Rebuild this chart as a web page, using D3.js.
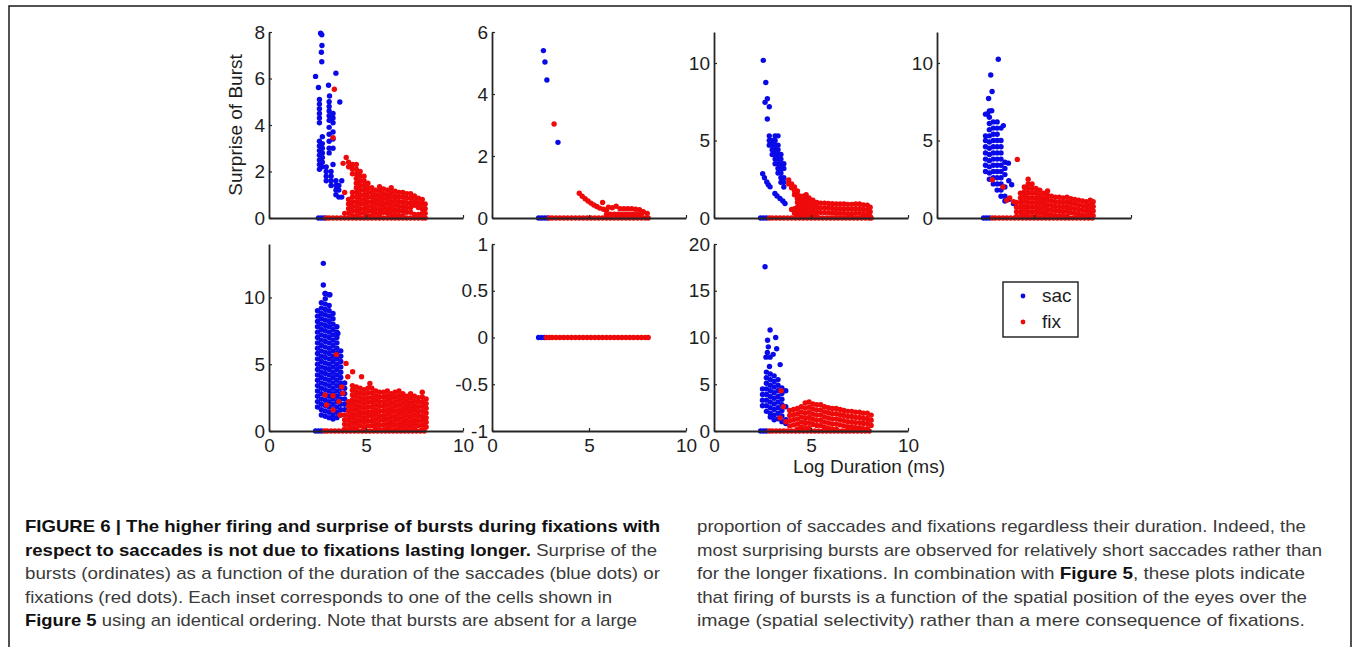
<!DOCTYPE html>
<html>
<head>
<meta charset="utf-8">
<script src="https://cdn.jsdelivr.net/npm/d3@7"></script>
<style>
  body { margin: 0; background: #fff; }
  svg { display: block; }
</style>
</head>
<body>
<div id="chart"></div>
<script>
// each series is a list of columns: [logDuration, [surprise values...]]
// *Zero arrays are the log durations of bursts with surprise 0

// panel 1
var p1Sac = [
  [2.4, [6.09]], [2.55, [5.61]], [2.66, [7.95]], [2.72, [7.88, 6.72]], [2.73, [7.42]], [2.7, [7.13]],
  [3.45, [6.23]], [3.07, [5.71]], [3.12, [5.25]], [3.65, [4.99]],
  [2.6, [5.1, 4.9, 4.7, 4.5, 4.3, 4.1, 3.3, 3.1, 2.9, 2.7, 2.5, 2.3, 2.1]],
  [2.75, [3.5, 3.2, 3.0, 2.8, 2.6, 2.4, 2.2]],
  [3.1, [5.0, 4.8, 4.6, 4.4, 4.2, 3.9, 3.6, 3.3, 3.0, 2.8]],
  [3.3, [4.5, 4.3, 4.1, 3.7, 3.4, 3.0, 2.3]],
  [2.95, [2.2, 2.0, 1.8, 1.6]],
  [3.2, [2.0, 1.8, 1.6, 1.4]],
  [3.45, [1.6, 1.4, 1.2, 1.0]],
  [3.6, [1.4, 1.2, 0.9]],
  [3.75, [1.6, 0.9]]
];
var p1Fix = [
  [3.37, [5.54]], [3.3, [3.45]], [3.82, [2.35]], [3.98, [2.6]],
  [3.9, [1.1, 0.2]],
  [4.1, [2.4, 2.2, 0.8, 0.6, 0.4, 0.2]],
  [4.3, [2.3, 2.1, 1.9, 1.1, 0.9, 0.7, 0.5, 0.3, 0.1]],
  [4.5, [2.3, 2.1, 1.9, 1.7, 1.5, 1.3, 1.1, 0.9, 0.7, 0.5, 0.3, 0.1]],
  [4.7, [2.0, 1.8, 1.6, 1.4, 1.2, 1.0, 0.8, 0.6, 0.4, 0.2]],
  [4.9, [1.8, 1.6, 1.4, 1.2, 1.0, 0.8, 0.6, 0.4, 0.2]],
  [5.1, [1.5, 1.3, 1.1, 0.9, 0.7, 0.5, 0.3, 0.1]],
  [5.3, [1.3, 1.1, 0.9, 0.7, 0.5, 0.3, 0.1]],
  [5.5, [1.2, 1.0, 0.8, 0.6, 0.4, 0.2]],
  [5.7, [1.35, 1.15, 0.95, 0.75, 0.55, 0.35, 0.15]],
  [5.9, [1.25, 1.05, 0.85, 0.65, 0.45, 0.25]],
  [6.1, [1.2, 1.0, 0.8, 0.6, 0.4, 0.2]],
  [6.3, [1.3, 1.1, 0.9, 0.7, 0.5, 0.3, 0.1]],
  [6.5, [1.15, 0.95, 0.75, 0.55, 0.35, 0.15]],
  [6.7, [1.1, 0.9, 0.7, 0.5, 0.3, 0.1]],
  [6.9, [1.1, 0.9, 0.7, 0.5, 0.3, 0.1]],
  [7.1, [1.05, 0.85, 0.65, 0.45, 0.25]],
  [7.3, [1.05, 0.85, 0.65, 0.45, 0.25]],
  [7.5, [0.95, 0.75, 0.55, 0.15]],
  [7.7, [0.85, 0.65, 0.45, 0.15]],
  [7.9, [0.8, 0.6, 0.4, 0.2]],
  [8.05, [0.6, 0.4, 0.2]]
];
var p1SacZero = [2.55, 2.7, 2.85];
var p1FixZero = [2.95, 3.1, 3.3, 3.5, 3.7, 3.9, 4.1, 4.3, 4.5, 4.7, 4.9, 5.1, 5.3, 5.5, 5.7, 5.9, 6.1, 6.3, 6.5, 6.7, 6.9, 7.1, 7.3, 7.5, 7.7, 7.9, 8.05];

// panel 2
var p2Sac = [[2.65, [5.4]], [2.73, [5.03]], [2.83, [4.45]], [3.4, [2.44]]];
var p2Fix = [
  [3.2, [3.03]], [4.5, [0.8]], [4.65, [0.7]], [4.8, [0.62]], [4.95, [0.55]], [5.1, [0.48]],
  [5.25, [0.42]], [5.4, [0.37]], [5.55, [0.32]], [5.7, [0.5]], [5.75, [0.28]], [5.9, [0.25, 0.12]],
  [6.0, [0.35]], [6.1, [0.12]], [6.2, [0.33]], [6.3, [0.12]], [6.4, [0.38]], [6.5, [0.12]], [6.6, [0.3]],
  [6.7, [0.12]], [6.8, [0.3]], [6.9, [0.12]], [7.0, [0.3]], [7.1, [0.12]], [7.2, [0.3]], [7.3, [0.12]],
  [7.4, [0.28]], [7.5, [0.12]], [7.6, [0.27]], [7.7, [0.12]], [7.8, [0.2]], [8.0, [0.15]]
];
var p2SacZero = [2.4, 2.55, 2.7, 2.85];
var p2FixZero = [2.95, 3.1, 3.3, 3.5, 3.7, 3.9, 4.1, 4.3, 4.5, 4.7, 4.9, 5.1, 5.3, 5.5, 5.7, 5.9, 6.1, 6.3, 6.5, 6.7, 6.9, 7.1, 7.3, 7.5, 7.7, 7.9, 8.05];

// panel 3
var p3Sac = [
  [2.54, [10.17]], [2.67, [8.74]], [2.75, [7.69, 6.39]], [2.63, [7.46]], [2.85, [7.18]],
  [2.85, [5.3, 5.0, 4.7]],
  [3.0, [5.0, 4.7, 4.4, 4.1]],
  [3.15, [5.3, 5.0, 4.7, 4.4, 4.1, 3.8, 3.5]],
  [3.3, [5.3, 4.7, 4.4, 4.1, 3.8, 3.5, 3.2, 2.9]],
  [3.45, [4.1, 3.8, 3.5, 3.2, 2.9, 2.6, 2.3]],
  [3.6, [3.5, 3.2, 2.6, 2.3, 2.0]],
  [2.51, [2.86]], [2.6, [2.6]], [2.72, [2.33]], [2.8, [2.15]], [2.89, [2.01]], [3.14, [1.58]],
  [3.25, [1.42]], [3.4, [1.26]], [3.55, [1.1]], [3.66, [0.94]]
];
var p3Fix = [
  [3.85, [2.45, 2.2]],
  [4.0, [2.2, 1.95, 0.55]],
  [4.15, [2.0, 1.75, 1.5, 0.6, 0.3]],
  [4.3, [1.75, 1.5, 1.25, 1.0, 0.7, 0.4, 0.1]],
  [4.45, [1.4, 1.15, 0.9, 0.6, 0.3]],
  [4.6, [1.4, 1.1, 0.8, 0.5, 0.2]],
  [4.75, [1.5, 1.2, 0.9, 0.6, 0.3]],
  [4.9, [1.3, 1.0, 0.7, 0.4, 0.1]],
  [5.1, [1.15, 0.85, 0.55, 0.25]],
  [5.3, [1.0, 0.7, 0.4, 0.1]],
  [5.5, [0.95, 0.65, 0.35]],
  [5.7, [0.95, 0.65, 0.35]],
  [5.9, [0.94, 0.64, 0.34]],
  [6.1, [0.92, 0.62, 0.32]],
  [6.3, [0.9, 0.6, 0.3]],
  [6.5, [0.9, 0.6, 0.3]],
  [6.7, [0.9, 0.6, 0.3]],
  [6.9, [0.88, 0.58, 0.28]],
  [7.1, [0.88, 0.58, 0.28]],
  [7.3, [0.9, 0.6, 0.3]],
  [7.5, [0.9, 0.6, 0.3]],
  [7.7, [0.85, 0.55, 0.25]],
  [7.9, [0.83, 0.53, 0.23]],
  [8.05, [0.7, 0.4, 0.1]]
];
var p3SacZero = [2.4, 2.55, 2.7];
var p3FixZero = [2.85, 3.0, 3.2, 3.4, 3.6, 3.8, 4.0, 4.2, 4.4, 4.6, 4.8, 5.0, 5.2, 5.4, 5.6, 5.8, 6.0, 6.2, 6.4, 6.6, 6.8, 7.0, 7.2, 7.4, 7.6, 7.8, 8.0, 8.1];

// panel 4
var p4Sac = [
  [3.16, [10.24]], [2.77, [9.23]], [2.84, [8.16]], [2.66, [7.71]], [2.6, [6.71]], [2.82, [6.92]],
  [3.42, [5.96]], [3.68, [3.54]], [3.85, [2.15]], [3.94, [0.94]],
  [2.5, [6.7, 5.3, 5.0, 4.6, 4.2, 3.8, 3.4, 3.0]],
  [2.7, [6.9, 6.5, 6.1, 5.7, 5.3, 4.9, 4.5, 4.1, 3.7, 3.3, 2.9, 2.5]],
  [2.9, [6.2, 5.8, 5.4, 5.0, 4.6, 4.2, 3.8, 3.4, 3.0, 2.6, 2.2]],
  [3.1, [6.2, 5.8, 5.4, 5.0, 4.6, 4.2, 3.8, 3.4, 3.0, 2.6, 2.2, 1.8]],
  [3.3, [5.8, 5.0, 4.6, 4.2, 3.8, 3.4, 3.0, 2.6, 2.2, 1.8, 1.4]],
  [3.5, [3.6, 3.2, 2.8, 2.0, 1.4, 1.1]],
  [3.7, [2.4, 1.2]]
];
var p4Fix = [
  [4.14, [3.78]], [2.85, [2.47]], [3.4, [2.0]], [3.6, [1.15]], [3.75, [1.3]], [3.95, [1.05]],
  [4.1, [1.0, 0.7, 0.4, 0.1]],
  [4.3, [1.6, 1.3, 1.0, 0.7, 0.4, 0.1]],
  [4.5, [2.0, 1.7, 1.4, 1.1, 0.8, 0.5, 0.2]],
  [4.7, [2.5, 2.2, 1.9, 1.6, 1.3, 1.0, 0.7, 0.4, 0.1]],
  [4.9, [2.2, 1.9, 1.6, 1.3, 1.0, 0.7, 0.4, 0.1]],
  [5.1, [1.9, 1.6, 1.3, 1.0, 0.7, 0.4, 0.1]],
  [5.3, [1.8, 1.5, 1.2, 0.9, 0.6, 0.3]],
  [5.5, [1.6, 1.3, 1.0, 0.7, 0.4, 0.1]],
  [5.7, [1.75, 1.45, 1.15, 0.85, 0.55, 0.25]],
  [5.9, [1.4, 1.1, 0.8, 0.5, 0.2]],
  [6.1, [1.35, 1.05, 0.75, 0.45, 0.15]],
  [6.3, [1.35, 1.05, 0.75, 0.45, 0.15]],
  [6.5, [1.3, 1.0, 0.7, 0.4, 0.1]],
  [6.7, [1.35, 1.05, 0.75, 0.45, 0.15]],
  [6.9, [1.25, 0.95, 0.65, 0.35]],
  [7.1, [1.2, 0.9, 0.6, 0.3]],
  [7.3, [1.15, 0.85, 0.55, 0.25]],
  [7.5, [1.1, 0.8, 0.5, 0.2]],
  [7.7, [1.05, 0.75, 0.45, 0.15]],
  [7.9, [1.15, 0.85, 0.55, 0.25]],
  [8.05, [1.05, 0.75, 0.45, 0.15]]
];
var p4SacZero = [2.4, 2.55, 2.7];
var p4FixZero = [2.85, 3.0, 3.2, 3.4, 3.6, 3.8, 4.0, 4.2, 4.4, 4.6, 4.8, 5.0, 5.2, 5.4, 5.6, 5.8, 6.0, 6.2, 6.4, 6.6, 6.8, 7.0, 7.2, 7.4, 7.6, 7.8, 8.0];

// panel 5
var p5Sac = [
  [2.8, [12.55, 10.93]], [2.89, [10.3]], [3.14, [10.2]], [3.3, [8.8]], [3.55, [7.3]],
  [2.5, [9.0, 8.6, 8.2, 7.8, 7.4, 7.0, 6.6, 6.2, 5.8, 5.4, 5.0, 4.6, 4.2, 3.8, 3.4, 3.0, 2.6, 2.2, 1.8]],
  [2.7, [9.6, 9.2, 8.8, 8.4, 8.0, 7.6, 7.2, 6.8, 6.4, 6.0, 5.6, 5.2, 4.8, 4.4, 4.0, 3.6, 3.2, 2.8, 2.4, 2.0, 1.6, 1.2]],
  [2.9, [10.3, 9.9, 9.5, 9.1, 8.7, 8.3, 7.9, 7.5, 7.1, 6.7, 6.3, 5.9, 5.5, 5.1, 4.7, 4.3, 3.9, 3.5, 3.1, 2.7, 2.3, 1.9, 1.5, 1.1]],
  [3.1, [10.2, 9.4, 9.0, 8.6, 8.2, 7.8, 7.4, 7.0, 6.6, 6.2, 5.8, 5.4, 5.0, 4.6, 4.2, 3.8, 3.4, 3.0, 2.6, 2.2, 1.8, 1.4, 1.0]],
  [3.3, [8.4, 8.0, 7.6, 7.2, 6.8, 6.4, 6.0, 5.6, 5.2, 4.8, 4.4, 4.0, 3.6, 3.2, 2.8, 2.4, 2.0, 1.6, 1.2, 0.9]],
  [3.5, [7.8, 7.4, 7.0, 6.6, 6.2, 5.8, 5.4, 5.0, 4.6, 4.2, 3.8, 3.4, 3.0, 2.6, 2.2, 1.8, 1.4, 1.0]],
  [3.7, [6.0, 5.6, 5.2, 4.8, 4.4, 4.0, 3.6, 3.2, 2.8, 2.4, 2.0, 1.6, 1.2]],
  [3.9, [3.6, 3.2, 2.8, 2.4, 2.0, 1.6]]
];
var p5Fix = [
  [3.47, [5.72]], [3.97, [5.06]], [4.31, [4.44]], [4.06, [4.06]], [4.77, [4.06]], [5.2, [3.56]],
  [2.89, [2.7]], [3.3, [2.64]], [3.8, [2.82]], [2.97, [1.95]], [3.3, [1.57]], [3.66, [1.2]],
  [3.75, [3.3]], [3.6, [2.2]],
  [3.9, [1.2, 0.85, 0.5, 0.15]],
  [4.1, [2.2, 1.85, 1.5, 1.15, 0.8, 0.45, 0.1]],
  [4.3, [3.4, 3.05, 2.7, 2.35, 2.0, 1.65, 1.3, 0.95, 0.6, 0.25]],
  [4.5, [3.3, 2.95, 2.6, 2.25, 1.9, 1.55, 1.2, 0.85, 0.5, 0.15]],
  [4.7, [3.2, 2.85, 2.5, 2.15, 1.8, 1.45, 1.1, 0.75, 0.4]],
  [4.9, [3.1, 2.75, 2.4, 2.05, 1.7, 1.35, 1.0, 0.65, 0.3]],
  [5.1, [3.2, 2.85, 2.5, 2.15, 1.8, 1.45, 1.1, 0.75, 0.4]],
  [5.3, [3.2, 2.85, 2.5, 2.15, 1.8, 1.45, 1.1, 0.75, 0.4]],
  [5.5, [3.0, 2.65, 2.3, 1.95, 1.6, 1.25, 0.9, 0.55, 0.2]],
  [5.7, [2.9, 2.55, 2.2, 1.85, 1.5, 1.15, 0.8, 0.45, 0.1]],
  [5.9, [2.9, 2.55, 2.2, 1.85, 1.5, 1.15, 0.8, 0.45, 0.1]],
  [6.1, [3.0, 2.65, 2.3, 1.95, 1.6, 1.25, 0.9, 0.55, 0.2]],
  [6.3, [2.8, 2.45, 2.1, 1.75, 1.4, 1.05, 0.7, 0.35]],
  [6.5, [2.9, 2.55, 2.2, 1.85, 1.5, 1.15, 0.8, 0.45, 0.1]],
  [6.7, [3.0, 2.65, 2.3, 1.95, 1.6, 1.25, 0.9, 0.55, 0.2]],
  [6.9, [2.8, 2.45, 2.1, 1.75, 1.4, 1.05, 0.7, 0.35]],
  [7.1, [2.6, 2.25, 1.9, 1.55, 1.2, 0.85, 0.5, 0.15]],
  [7.3, [2.8, 2.45, 2.1, 1.75, 1.4, 1.05, 0.7, 0.35]],
  [7.5, [2.6, 2.25, 1.9, 1.55, 1.2, 0.85, 0.5, 0.15]],
  [7.7, [2.5, 2.15, 1.8, 1.45, 1.1, 0.75, 0.4]],
  [7.9, [2.9, 2.55, 2.2, 1.85, 1.5, 1.15, 0.8, 0.45, 0.1]],
  [8.1, [2.4, 2.05, 1.7, 1.35, 1.0, 0.65, 0.3]]
];
var p5SacZero = [2.4, 2.55, 2.7];
var p5FixZero = [2.85, 3.0, 3.2, 3.4, 3.6, 3.8, 4.0, 4.2, 4.4, 4.6, 4.8, 5.0, 5.2, 5.4, 5.6, 5.8, 6.0, 6.2, 6.4, 6.6, 6.8, 7.0, 7.2, 7.4, 7.6, 7.8, 8.0];

// panel 6 (no bursts at all)
var p6Sac = [];
var p6Fix = [];
var p6SacZero = [2.4, 2.55, 2.7];
var p6FixZero = [2.8, 2.95, 3.1, 3.3, 3.5, 3.7, 3.9, 4.1, 4.3, 4.5, 4.7, 4.9, 5.1, 5.3, 5.5, 5.7, 5.9, 6.1, 6.3, 6.5, 6.7, 6.9, 7.1, 7.3, 7.5, 7.7, 7.9, 8.05];

// panel 7
var p7Sac = [
  [2.63, [17.57]], [2.89, [10.8, 7.9]], [3.18, [10.0]], [2.76, [9.7]], [2.8, [9.0]], [3.23, [8.8]],
  [2.68, [7.9]], [3.41, [7.1]], [2.86, [6.9]], [2.75, [8.4]], [3.05, [8.2]],
  [2.5, [4.5, 3.9, 3.3, 2.7]],
  [2.7, [6.3, 5.7, 5.1, 4.5, 3.9, 3.3, 2.7, 2.1]],
  [2.9, [6.1, 5.5, 4.9, 4.3, 3.7, 3.1, 2.5, 1.9, 1.5]],
  [3.1, [5.9, 5.3, 4.7, 4.1, 3.5, 2.9, 2.3, 1.7, 1.2]],
  [3.3, [5.5, 4.9, 4.3, 3.7, 3.1, 2.5, 1.9, 1.3]],
  [3.5, [4.6, 4.0, 3.4, 2.8, 2.2, 1.6, 1.0]],
  [3.7, [4.3, 2.6, 1.2, 0.8]]
];
var p7Fix = [
  [3.46, [4.3]], [3.58, [2.6]], [3.41, [1.4]], [3.7, [1.0]],
  [3.9, [2.2, 1.65, 1.1, 0.55]],
  [4.1, [2.3, 1.75, 1.2, 0.65]],
  [4.3, [2.4, 1.85, 1.3, 0.75, 0.2]],
  [4.5, [2.6, 2.05, 1.5, 0.95, 0.4]],
  [4.7, [3.0, 2.45, 1.9, 1.35, 0.8, 0.25]],
  [4.9, [3.1, 2.55, 2.0, 1.45, 0.9, 0.35]],
  [5.1, [2.9, 2.35, 1.8, 1.25, 0.7]],
  [5.3, [2.8, 2.25, 1.7, 1.15, 0.6]],
  [5.5, [2.8, 2.25, 1.7, 1.15, 0.6]],
  [5.7, [2.6, 2.05, 1.5, 0.95, 0.4]],
  [5.9, [2.5, 1.95, 1.4, 0.85, 0.3]],
  [6.1, [2.4, 1.85, 1.3, 0.75, 0.2]],
  [6.3, [2.4, 1.85, 1.3, 0.75, 0.2]],
  [6.5, [2.3, 1.75, 1.2, 0.65]],
  [6.7, [2.2, 1.65, 1.1, 0.55]],
  [6.9, [2.1, 1.55, 1.0, 0.45]],
  [7.1, [2.1, 1.55, 1.0, 0.45]],
  [7.3, [2.0, 1.45, 0.9, 0.35]],
  [7.5, [2.0, 1.45, 0.9, 0.35]],
  [7.7, [1.9, 1.35, 0.8, 0.25]],
  [7.9, [1.9, 1.35, 0.8, 0.25]],
  [8.1, [1.7, 1.15, 0.6]]
];
var p7SacZero = [2.4, 2.55, 2.7];
var p7FixZero = [2.85, 3.0, 3.2, 3.4, 3.6, 3.8, 4.0, 4.2, 4.4, 4.6, 4.8, 5.0, 5.2, 5.4, 5.6, 5.8, 6.0, 6.2, 6.4, 6.6, 6.8, 7.0, 7.2, 7.4, 7.6, 7.8, 8.0];

// y ticks of every inset
var yTicks1 = [0, 2, 4, 6, 8];
var yTicks2 = [0, 2, 4, 6];
var yTicks3 = [0, 5, 10];
var yTicks4 = [0, 5, 10];
var yTicks5 = [0, 5, 10];
var yTicks6 = [-1, -0.5, 0, 0.5, 1];
var yTicks7 = [0, 5, 10, 15, 20];
var xTicks = [0, 5, 10];
var seriesNames = ["sac", "fix"];

var captionLeft = [
  [["FIGURE 6 | The higher firing and surprise of bursts during fixations with", true]],
  [["respect to saccades is not due to fixations lasting longer.", true], [" Surprise of the", false]],
  [["bursts (ordinates) as a function of the duration of the saccades (blue dots) or", false]],
  [["fixations (red dots). Each inset corresponds to one of the cells shown in", false]],
  [["Figure 5", true], [" using an identical ordering. Note that bursts are absent for a large", false]]
];
var captionRight = [
  [["proportion of saccades and fixations regardless their duration. Indeed, the", false]],
  [["most surprising bursts are observed for relatively short saccades rather than", false]],
  [["for the longer fixations. In combination with ", false], ["Figure 5", true], [", these plots indicate", false]],
  [["that firing of bursts is a function of the spatial position of the eyes over the", false]],
  [["image (spatial selectivity) rather than a mere consequence of fixations.", false]]
];

var width = 1356, height = 647;
var blue = "#0a0ae8", red = "#ee0a0a";
var axisColor = "#262626";
var font = "'Liberation Sans', Arial, sans-serif";

var svg = d3.select("#chart").append("svg")
    .attr("width", width)
    .attr("height", height);

// figure frame
svg.append("path")
    .attr("d", "M9,647 L9,6 L1351,6 L1351,647")
    .attr("fill", "none")
    .attr("stroke", "#1a1a1a")
    .attr("stroke-width", 1.5);

function flatten(cols) {
  var out = [];
  cols.forEach(function(c) {
    c[1].forEach(function(y) { out.push({x: c[0], y: y}); });
  });
  return out;
}
function zeros(xs) {
  return xs.map(function(x) { return {x: x, y: 0}; });
}

var panels = [
  {left: 269, top: 32, bottom: 218, y: [0, 8], ticks: yTicks1, labels: false, sac: p1Sac, fix: p1Fix, sz: p1SacZero, fz: p1FixZero},
  {left: 492, top: 32, bottom: 218, y: [0, 6], ticks: yTicks2, labels: false, sac: p2Sac, fix: p2Fix, sz: p2SacZero, fz: p2FixZero},
  {left: 714, top: 32, bottom: 218, y: [0, 12], ticks: yTicks3, labels: false, sac: p3Sac, fix: p3Fix, sz: p3SacZero, fz: p3FixZero},
  {left: 937, top: 32, bottom: 218, y: [0, 12], ticks: yTicks4, labels: false, sac: p4Sac, fix: p4Fix, sz: p4SacZero, fz: p4FixZero},
  {left: 269, top: 244, bottom: 431, y: [0, 14], ticks: yTicks5, labels: true, sac: p5Sac, fix: p5Fix, sz: p5SacZero, fz: p5FixZero},
  {left: 492, top: 244, bottom: 431, y: [-1, 1], ticks: yTicks6, labels: true, sac: p6Sac, fix: p6Fix, sz: p6SacZero, fz: p6FixZero},
  {left: 714, top: 244, bottom: 431, y: [0, 20], ticks: yTicks7, labels: true, sac: p7Sac, fix: p7Fix, sz: p7SacZero, fz: p7FixZero}
];
var panelWidth = 194;
var r = 2.7;

panels.forEach(function(p) {
  var x = d3.scaleLinear().domain([0, 10]).range([p.left, p.left + panelWidth]);
  var y = d3.scaleLinear().domain(p.y).range([p.bottom, p.top]);
  var g = svg.append("g");

  var sacPts = zeros(p.sz).concat(flatten(p.sac));
  var fixPts = zeros(p.fz).concat(flatten(p.fix));

  g.append("g").selectAll("circle")
      .data(sacPts)
      .enter()
      .append("circle")
      .attr("cx", function(d) { return x(d.x); })
      .attr("cy", function(d) { return y(d.y); })
      .attr("r", r)
      .attr("fill", blue);

  g.append("g").selectAll("circle")
      .data(fixPts)
      .enter()
      .append("circle")
      .attr("cx", function(d) { return x(d.x); })
      .attr("cy", function(d) { return y(d.y); })
      .attr("r", r)
      .attr("fill", red);

  // axes are drawn after the dots like matlab does with the box
  var xAxis = d3.axisBottom(x)
      .tickValues(xTicks)
      .tickSize(-3)
      .tickSizeOuter(0)
      .tickPadding(8)
      .tickFormat(p.labels ? function(d) { return d; } : function() { return ""; });
  var yAxis = d3.axisLeft(y)
      .tickValues(p.ticks)
      .tickSize(-3)
      .tickSizeOuter(0)
      .tickPadding(4)
      .tickFormat(function(d) { return String(d); });

  var xg = g.append("g")
      .attr("transform", "translate(0," + y(p.y[0]) + ")")
      .call(xAxis);
  var yg = g.append("g")
      .attr("transform", "translate(" + p.left + ",0)")
      .call(yAxis);

  [xg, yg].forEach(function(a) {
    a.select(".domain").attr("stroke", axisColor).attr("stroke-width", 1.8);
    a.selectAll(".tick line").attr("stroke", axisColor).attr("stroke-width", 1.2);
    a.selectAll("text")
        .attr("fill", "#1e1e1e")
        .attr("font-family", font)
        .attr("font-size", "19px");
  });
});

// axis titles
svg.append("text")
    .attr("transform", "translate(242,125) rotate(-90)")
    .attr("text-anchor", "middle")
    .attr("font-family", font)
    .attr("font-size", "19px")
    .attr("fill", "#1e1e1e")
    .text("Surprise of Burst");

svg.append("text")
    .attr("x", 869)
    .attr("y", 473)
    .attr("text-anchor", "middle")
    .attr("font-family", font)
    .attr("font-size", "19px")
    .attr("fill", "#1e1e1e")
    .text("Log Duration (ms)");

// legend
var legend = svg.append("g").attr("transform", "translate(1003,282)");
legend.append("rect")
    .attr("width", 75)
    .attr("height", 55)
    .attr("fill", "#fff")
    .attr("stroke", "#1a1a1a")
    .attr("stroke-width", 1.4);
var legendColor = d3.scaleOrdinal().domain(seriesNames).range([blue, red]);
var legendY = d3.scalePoint().domain(seriesNames).range([14, 40]);
seriesNames.forEach(function(s) {
  legend.append("circle")
      .attr("cx", 20)
      .attr("cy", legendY(s))
      .attr("r", 2.4)
      .attr("fill", legendColor(s));
  legend.append("text")
      .attr("x", 39)
      .attr("y", legendY(s) + 6)
      .attr("font-family", font)
      .attr("font-size", "19px")
      .attr("fill", "#1e1e1e")
      .text(s);
});

// caption
var capFont = "'Liberation Sans Narrow', 'Arial Narrow', 'Liberation Sans', Arial, sans-serif";
var leftLengths = [635, 632, 635, 587, 612];
var rightLengths = [609, 625, 608, 610, 608];
function caption(lines, x0, lengths) {
  lines.forEach(function(parts, i) {
    var t = svg.append("text")
        .attr("x", x0)
        .attr("y", 532 + i * 23.5)
        .attr("font-family", capFont)
        .attr("font-size", "17px")
        .attr("textLength", lengths[i])
        .attr("lengthAdjust", "spacingAndGlyphs");
    parts.forEach(function(part) {
      t.append("tspan")
          .attr("font-weight", part[1] ? "bold" : "normal")
          .attr("fill", part[1] ? "#111" : "#3a3a3a")
          .text(part[0]);
    });
  });
}
caption(captionLeft, 25, leftLengths);
caption(captionRight, 697, rightLengths);
</script>
</body>
</html>
